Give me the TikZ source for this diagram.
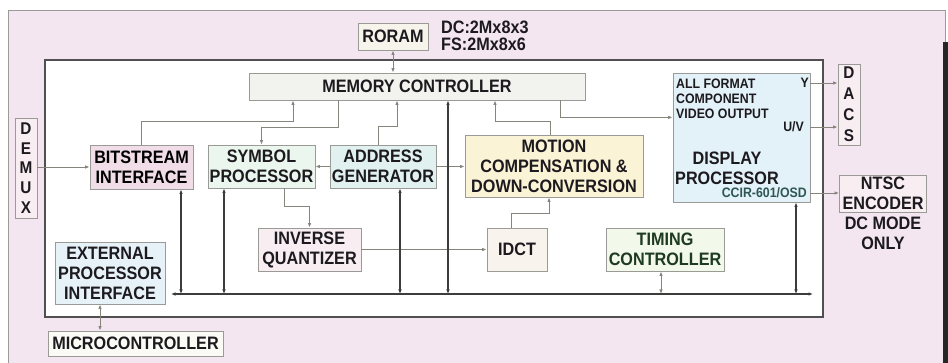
\documentclass[tikz,border=0pt]{standalone}
\usepackage{fontspec}
\setmainfont{Liberation Sans}[FakeStretch=0.9]
\usetikzlibrary{arrows.meta}
\definecolor{pinkbg}{HTML}{F4E6F0}
\definecolor{boxgray}{HTML}{9A9A96}
\definecolor{lngray}{HTML}{85857C}
\definecolor{busgray}{HTML}{3C3C3C}
\definecolor{txtdark}{HTML}{1C1A1E}
\definecolor{fmem}{HTML}{F2F2EE}
\definecolor{froram}{HTML}{F7F4EC}
\definecolor{fbsi}{HTML}{F0DDE7}
\definecolor{fsym}{HTML}{EAF6EE}
\definecolor{faddr}{HTML}{E0F1F0}
\definecolor{fmc}{HTML}{FBF3D6}
\definecolor{fdisp}{HTML}{E3F1F8}
\definecolor{fpink}{HTML}{F8EEF2}
\definecolor{fidct}{HTML}{F9F3EE}
\definecolor{ftim}{HTML}{F2F8EA}
\definecolor{fepi}{HTML}{E6F1F8}
\definecolor{fmicro}{HTML}{FBFBF6}
\definecolor{timtxt}{HTML}{1E3A20}
\definecolor{ccirtxt}{HTML}{2E5752}
\begin{document}
\begin{tikzpicture}[x=1pt,y=-1pt,
  >={Latex[length=4.5pt,width=3.5pt]},
  blk/.style={draw=boxgray,line width=0.8pt,inner sep=0pt,align=center,text=txtdark,
    font=\bfseries\fontsize{18}{20}\selectfont},
  small/.style={inner sep=0pt,text=txtdark,font=\bfseries\fontsize{13.7}{15}\selectfont},
  ln/.style={draw=lngray,line width=0.9pt},
  bus/.style={draw=busgray,line width=1.3pt}]
 \useasboundingbox (0,0) rectangle (948,363);
 \fill[white] (0,0) rectangle (948,363);
 \draw[fill=pinkbg,draw=boxgray,line width=0.8pt] (8,10) rectangle (945,372);
 \fill[black!85] (943,42) rectangle (948,363);
 \draw[fill=white,draw=busgray!90,line width=1.3pt] (45,60) rectangle (823,317);
 % blocks
 \node (box roram) at (393,36.5) [blk,fill=froram,minimum width=70pt,minimum height=27pt] {RORAM};
 \node (txt size) at (441,36) [anchor=west,align=left,inner sep=0pt,text=txtdark,
   font=\bfseries\fontsize{18}{17.5}\selectfont] {DC:2Mx8x3\\FS:2Mx8x6};
 \node (box mem) at (417,86.5) [blk,fill=fmem,minimum width=336pt,minimum height=27pt] {MEMORY CONTROLLER};
 \node (box demux) at (26,168) [blk,fill=fpink,minimum width=22pt,minimum height=100pt,
   font=\bfseries\fontsize{17}{19.8}\selectfont] {D\\E\\M\\U\\X};
 \node (box bsi) at (141.5,167) [blk,fill=fbsi,minimum width=103pt,minimum height=44pt,text=black] {BITSTREAM\\INTERFACE};
 \node (box sym) at (261.5,166.5) [blk,fill=fsym,minimum width=107pt,minimum height=43pt] {SYMBOL\\PROCESSOR};
 \node (box addr) at (383,166.5) [blk,fill=faddr,minimum width=106pt,minimum height=43pt] {ADDRESS\\GENERATOR};
 \node (box mc) at (554,166) [blk,fill=fmc,minimum width=178pt,minimum height=62pt] {MOTION\\COMPENSATION \&\\DOWN-CONVERSION};
 \node (box disp) at (741.5,137.5) [blk,fill=fdisp,minimum width=137pt,minimum height=129pt] {};
 \node (txt fmt) at (676,79) [small,anchor=north west,align=left] {ALL FORMAT\\COMPONENT\\VIDEO OUTPUT};
 \node (txt disp) at (727,168) [align=center,inner sep=0pt,text=txtdark,
   font=\bfseries\fontsize{18}{20}\selectfont] {DISPLAY\\PROCESSOR};
 \node (lbl y) at (809,83) [small,anchor=east] {Y};
 \node (lbl uv) at (804,127) [small,anchor=east] {U/V};
 \node (lbl ccir) at (807,193) [small,anchor=east,text=ccirtxt] {CCIR-601/OSD};
 \node (box dacs) at (849,104.5) [blk,fill=fpink,minimum width=22pt,minimum height=81pt,
   font=\bfseries\fontsize{17}{21}\selectfont] {D\\A\\C\\S};
 \node (box ntsc) at (883,193.5) [blk,fill=fpink,minimum width=87pt,minimum height=37pt] {NTSC\\ENCODER};
 \node (txt dcmode) at (883,233) [align=center,inner sep=0pt,text=txtdark,
   font=\bfseries\fontsize{18}{20}\selectfont] {DC MODE\\ONLY};
 \node (box iq) at (309.5,249.5) [blk,fill=fpink,minimum width=103pt,minimum height=43pt] {INVERSE\\QUANTIZER};
 \node (box idct) at (517,249.5) [blk,fill=fidct,minimum width=60pt,minimum height=43pt] {IDCT};
 \node (box tim) at (665,249.5) [blk,fill=ftim,minimum width=118pt,minimum height=43pt,text=timtxt] {TIMING\\CONTROLLER};
 \node (box epi) at (110,273) [blk,fill=fepi,minimum width=110pt,minimum height=62pt] {EXTERNAL\\PROCESSOR\\INTERFACE};
 \node (box micro) at (135.5,343.5) [blk,fill=fmicro,minimum width=175pt,minimum height=25pt] {MICROCONTROLLER};
 \coordinate (bus w) at (171,294);
 \coordinate (bus e) at (813,294);
 % thin connectors
 \draw[ln,<->] (box roram.south) -- (box roram.south |- box mem.north);
 \draw[ln,->] (box demux.east |- box bsi.west) -- (box bsi.west);
 \draw[ln,->] (box bsi.north) -- ++(0,-23) -| ([xshift=-124pt]box mem.south);
 \draw[ln,->] ([xshift=-79pt]box mem.south) -- ++(0,27) -| (box sym.north);
 \draw[ln,->] ([xshift=-5pt]box addr.north) -- ++(0,-18) -| ([xshift=-20pt]box mem.south);
 \draw[ln,->] (box addr.west) -- (box sym.east);
 \draw[ln,->] (box addr.east) -- (box addr.east -| box mc.west);
 \draw[ln,->] ([xshift=-4pt]box mc.north) -- ++(0,-13) -| ([xshift=78pt]box mem.south);
 \draw[ln,->] ([xshift=143pt]box mem.south) -- ++(0,17) coordinate (t) -- (t -| box disp.west);
 \draw[ln,->] (lbl y -| box disp.east) -- (lbl y -| box dacs.west);
 \draw[ln,->] (lbl uv -| box disp.east) -- (lbl uv -| box dacs.west);
 \draw[ln,->] (lbl ccir -| box disp.east) -- (lbl ccir -| box ntsc.west);
 \draw[ln,->] ([xshift=22.5pt]box sym.south) -- ++(0,18) -| (box iq.north);
 \draw[ln,->] (box iq.east) -- (box iq.east -| box idct.west);
 \draw[ln,->] ([xshift=-6pt]box idct.north) -- ++(0,-14) -| ([xshift=-5pt]box mc.south);
 \draw[ln,<->] ([xshift=-10pt]box epi.south) coordinate (p) -- (p |- box micro.north);
 \draw[ln,<->] ([xshift=-4pt]box tim.south) coordinate (p) -- (p |- bus w);
 % bus
 \draw[bus,<->] (bus w) -- (bus e);
 \draw[bus,<->] ([xshift=39.5pt]box bsi.south) coordinate (p) -- (p |- bus w);
 \draw[bus,<->] ([xshift=-37.5pt]box sym.south) coordinate (p) -- (p |- bus w);
 \draw[bus,<->] ([xshift=17pt]box addr.south) coordinate (p) -- (p |- bus w);
 \draw[bus,<->] ([xshift=31pt]box mem.south) coordinate (p) -- (p |- bus w);
 \draw[bus,<->] ([xshift=54.5pt]box disp.south) coordinate (p) -- (p |- bus w);
\end{tikzpicture}
\end{document}
